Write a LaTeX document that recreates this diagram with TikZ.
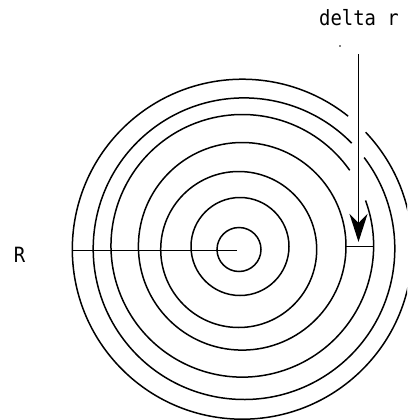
\documentclass[tikz,border=0pt]{standalone}
\usepackage{fontspec}
\newfontfamily\lblfont{DejaVu Sans Mono}
\usetikzlibrary{arrows.meta,calc}
\begin{document}
\begin{tikzpicture}[x=1pt,y=-1pt,
  ring/.style={line width=1.5pt},
  lbl/.style={font=\lblfont\fontsize{21}{22}\selectfont, inner sep=0pt}]
\useasboundingbox (0,0) rectangle (407,420);
\clip (0,0) rectangle (407,420);
% centres of the rings
\coordinate (c1) at (239,249.5);
\coordinate (c2) at (240,246.5);
\coordinate (c3) at (238.7,249.5);
\coordinate (c4) at (242.2,246.3);
\coordinate (c5) at (242.3,245.8);
\coordinate (c6) at (244,248.7);
\coordinate (c7) at (242.3,249.2);
% full rings
\draw[ring] (c1) circle[radius=22];
\draw[ring] (c2) circle[radius=49];
\draw[ring] (c3) circle[radius=78];
\draw[ring] (c4) circle[radius=103.8];
% rings broken where the arrow passes
\draw[ring] ($(c5)+(-20.2:131.3)$) arc[start angle=-20.2, end angle=324.9, radius=131.3];
\draw[ring] ($(c6)+(-37.2:150.8)$) arc[start angle=-37.2, end angle=315.6, radius=150.8];
\draw[ring] ($(c7)+(-43.5:170)$) arc[start angle=-43.5, end angle=308.5, radius=170];
% radius line
\coordinate (hl) at (71.7,250.7);
\coordinate (hr) at (236.5,250.7);
\draw[ring] (hl) -- (hr);
% delta r bar
\coordinate (bl) at (346,246.7);
\coordinate (br) at (374,246.7);
\draw[ring] (bl) -- (br);
% labels
\node[lbl] (delta) at (359,17.5) {\scalebox{0.9}[1]{delta r}};
\node[lbl] (R) at (19.5,255) {\scalebox{0.9}[1]{R}};
\node[circle, fill, inner sep=0pt, minimum size=1.8pt] (dot) at (340,46) {};
% arrow
\coordinate (atop) at (358.5,54.5);
\coordinate (atip) at (358.5,242);
\draw[ring, -{Stealth[length=28pt,width=18pt,inset=9pt]}] (atop) -- (atip);
\end{tikzpicture}
\end{document}
